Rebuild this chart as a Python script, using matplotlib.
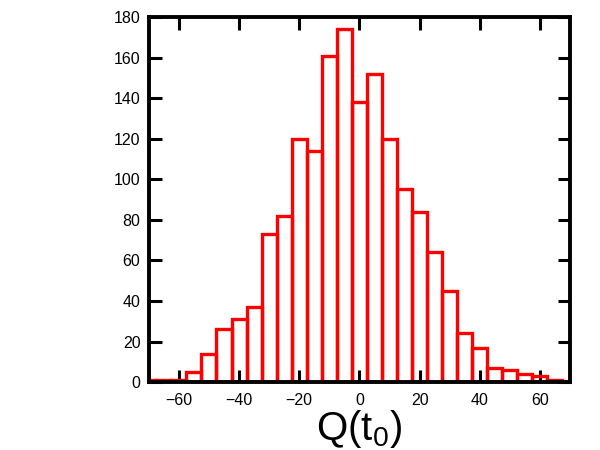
import matplotlib
matplotlib.use("Agg")
import matplotlib.pyplot as plt

# Histogram data (bin centers, counts), bin width 5
bin_centers = [-70, -65, -60, -55, -50, -45, -40, -35, -30, -25, -20, -15, -10, -5,
               0, 5, 10, 15, 20, 25, 30, 35, 40, 45, 50, 55, 60, 65]
counts = [1, 1, 1, 5, 14, 26, 31, 37, 73, 82, 120, 114, 161, 174,
          138, 152, 120, 95, 84, 64, 45, 24, 17, 7, 6, 4, 3, 1]
bin_width = 5
x_ticks = [-60, -40, -20, 0, 20, 40, 60]
y_ticks = [0, 20, 40, 60, 80, 100, 120, 140, 160, 180]

plt.rcParams['font.family'] = ['Liberation Sans', 'DejaVu Sans']
plt.rcParams['mathtext.fontset'] = 'custom'
plt.rcParams['mathtext.rm'] = 'Liberation Sans'
plt.rcParams['mathtext.it'] = 'Liberation Sans'

fig = plt.figure(figsize=(6, 4.5), dpi=100)
ax = fig.add_axes([0.248, 0.151, 0.702, 0.811])

ax.bar(bin_centers, counts, width=bin_width, fill=False, edgecolor='#ff0000',
       linewidth=2.4, align='center', zorder=2)

ax.set_xlim(-70, 70)
ax.set_ylim(0, 180)
ax.set_xticks(x_ticks)
ax.set_yticks(y_ticks)
for s in ax.spines.values():
    s.set_linewidth(2.8)
    s.set_zorder(3)
ax.tick_params(direction='in', top=True, right=True, length=9, width=2.2,
               labelsize=11.5)
ax.tick_params(axis='x', pad=8)
ax.tick_params(axis='y', pad=6)
ax.set_xlabel(r'Q(t$_0$)', fontsize=29, labelpad=0)

fig.savefig('out.png', dpi=100)
